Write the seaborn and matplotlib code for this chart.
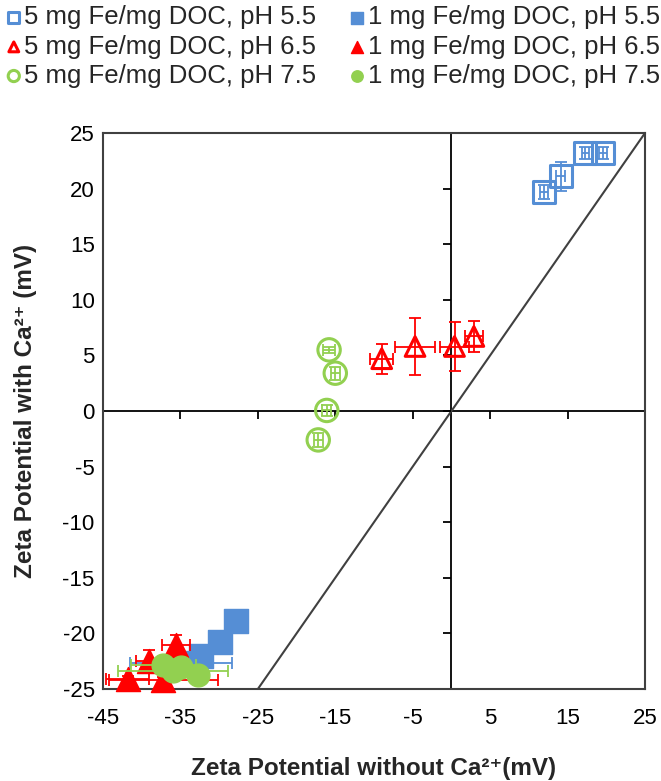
import matplotlib
matplotlib.use("Agg")
import matplotlib.pyplot as plt
import numpy as np
import pandas as pd
import seaborn as sns

sns.set_theme(style="white")
plt.rcParams['font.family'] = ['Liberation Sans', 'DejaVu Sans']
plt.rcParams['axes.unicode_minus'] = False

# ---- zeta potential data (mV): without Ca2+ (x) vs with Ca2+ (y) ----
# 5 mg Fe/mg DOC, pH 5.5
hi55_x = [12.0, 14.1, 17.3, 19.6]
hi55_y = [19.7, 21.1, 23.2, 23.2]
hi55_xerr = [0.5, 0.6, 0.5, 0.5]
hi55_yerr = [0.6, 1.3, 0.5, 0.5]
# 1 mg Fe/mg DOC, pH 5.5
lo55_x = [-34.9, -32.4, -29.9, -27.8]
lo55_y = [-22.7, -22.0, -20.8, -18.9]
lo55_xerr = [6.6, 0.3, 0.3, 0.3]
lo55_yerr = [0.3, 0.3, 0.3, 0.3]
# 5 mg Fe/mg DOC, pH 6.5
hi65_x = [-9.0, -4.7, 0.4, 2.9]
hi65_y = [4.7, 5.8, 5.8, 6.7]
hi65_xerr = [1.5, 2.6, 1.9, 1.2]
hi65_yerr = [1.35, 2.6, 2.2, 1.35]
# 1 mg Fe/mg DOC, pH 6.5
lo65_x = [-41.8, -37.2, -39.0, -35.6]
lo65_y = [-24.1, -24.2, -22.5, -21.0]
lo65_xerr = [2.8, 7.0, 1.8, 1.8]
lo65_yerr = [0.3, 0.3, 1.0, 0.9]
# 5 mg Fe/mg DOC, pH 7.5
hi75_x = [-15.8, -15.0, -16.1, -17.2]
hi75_y = [5.5, 3.4, 0.05, -2.6]
hi75_xerr = [0.8, 0.6, 0.6, 0.6]
hi75_yerr = [0.3, 0.6, 0.5, 0.6]
# 1 mg Fe/mg DOC, pH 7.5
lo75_x = [-36.0, -37.2, -34.9, -32.7]
lo75_y = [-23.4, -22.8, -23.0, -23.7]
lo75_xerr = [7.1, 4.2, 0.5, 0.5]
lo75_yerr = [0.3, 0.3, 0.3, 0.3]

series_labels = [
    "5 mg Fe/mg DOC, pH 5.5", "1 mg Fe/mg DOC, pH 5.5",
    "5 mg Fe/mg DOC, pH 6.5", "1 mg Fe/mg DOC, pH 6.5",
    "5 mg Fe/mg DOC, pH 7.5", "1 mg Fe/mg DOC, pH 7.5",
]
x_ticks = [-45, -35, -25, -15, -5, 5, 15, 25]
y_ticks = [-25, -20, -15, -10, -5, 0, 5, 10, 15, 20, 25]
one_to_one = [-25, 25]

BLUE, RED, GREEN = "#558ED5", "#FF0000", "#92D050"

frames = []
for lab, xs, ys, xe, ye in zip(
        series_labels,
        [hi55_x, lo55_x, hi65_x, lo65_x, hi75_x, lo75_x],
        [hi55_y, lo55_y, hi65_y, lo65_y, hi75_y, lo75_y],
        [hi55_xerr, lo55_xerr, hi65_xerr, lo65_xerr, hi75_xerr, lo75_xerr],
        [hi55_yerr, lo55_yerr, hi65_yerr, lo65_yerr, hi75_yerr, lo75_yerr]):
    frames.append(pd.DataFrame({"x": xs, "y": ys, "xerr": xe, "yerr": ye,
                                "series": lab}))
df = pd.concat(frames, ignore_index=True)

# marker style for each series: (marker, color, open?, size)
styles = {
    series_labels[0]: ("s", BLUE, True, 250),
    series_labels[1]: ("s", BLUE, False, 280),
    series_labels[2]: ("^", RED, True, 200),
    series_labels[3]: ("^", RED, False, 300),
    series_labels[4]: ("o", GREEN, True, 260),
    series_labels[5]: ("o", GREEN, False, 270),
}

fig = plt.figure(figsize=(6.61, 7.81), dpi=100)
ax = fig.add_axes([103 / 661, 1 - 689 / 781, 542 / 661, 556 / 781])

# reference lines: zero axes and the 1:1 line
ax.axhline(0, color="black", lw=1.3, zorder=1)
ax.axvline(0, color="black", lw=1.3, zorder=1)
ax.plot(one_to_one, one_to_one, color="#404040", lw=1.5, zorder=1)

# tick marks sit on the zero axes
ax.plot(x_ticks, [0] * len(x_ticks), ls="none", marker=3, ms=6,
        mew=1.3, color="black", zorder=1, clip_on=False)
ax.plot([0] * len(y_ticks), y_ticks, ls="none", marker=0, ms=6,
        mew=1.3, color="black", zorder=1, clip_on=False)

handles = {}
for i, lab in enumerate(series_labels):
    d = df[df["series"] == lab]
    marker, color, is_open, size = styles[lab]
    z = 3 + 2 * i
    ax.errorbar(d["x"], d["y"], xerr=d["xerr"], yerr=d["yerr"], fmt="none",
                ecolor=color, elinewidth=1.3, capsize=4.5, capthick=1.3,
                zorder=z, clip_on=False)
    sns.scatterplot(data=d, x="x", y="y", marker=marker, s=size, ax=ax,
                    color=color, label=lab, zorder=z + 1, clip_on=False,
                    linewidth=2.2 if is_open else 1.0, edgecolor=color)
    coll = ax.collections[-1]
    if is_open:
        coll.set_facecolor("none")
    coll.set_edgecolor(color)
    handles[lab] = coll

ax.set_xlim(-45, 25)
ax.set_ylim(-25, 25)
ax.set_xticks(x_ticks)
ax.set_yticks(y_ticks)
ax.tick_params(axis="both", length=0, labelsize=16, colors="black")
ax.tick_params(axis="x", pad=14)
ax.tick_params(axis="y", pad=6)
for sp in ax.spines.values():
    sp.set_visible(True)
    sp.set_color("#404040")
    sp.set_linewidth(1.5)

ax.set_xlabel("Zeta Potential without Ca²⁺(mV)",
              fontsize=17.5, fontweight="bold", labelpad=20)
ax.set_ylabel("Zeta Potential with Ca²⁺ (mV)",
              fontsize=17.5, fontweight="bold", labelpad=18)

ax.get_legend().remove()
order = [series_labels[0], series_labels[2], series_labels[4],
         series_labels[1], series_labels[3], series_labels[5]]
fig.legend([handles[k] for k in order], order, ncol=2, loc="upper left",
           bbox_to_anchor=(-0.018, 1.016), frameon=False, fontsize=18.5,
           markerscale=0.5, handlelength=0.6, handletextpad=0.1,
           columnspacing=1.3, labelspacing=0.2, borderaxespad=0.3)

fig.savefig("out.png", dpi=100)
